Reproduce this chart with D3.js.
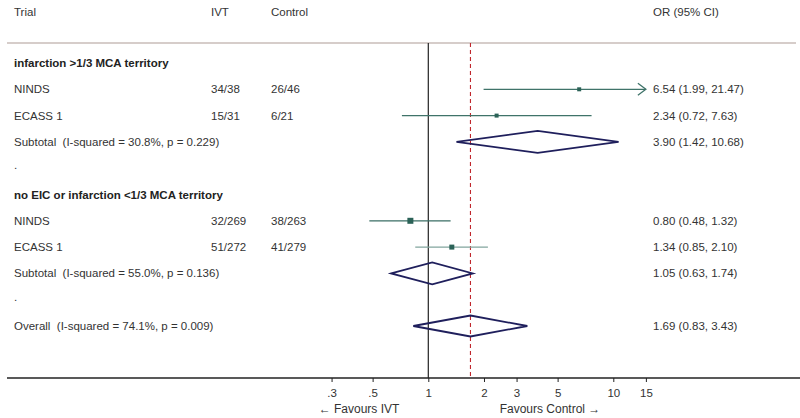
<!DOCTYPE html>
<html><head><meta charset="utf-8">
<script src="https://cdn.jsdelivr.net/npm/d3@7"></script>
<style>body{margin:0;background:#fff}svg{display:block}text{font-family:"Liberation Sans",Arial,sans-serif;fill:#333;white-space:pre}</style>
</head><body><svg id="c" width="800" height="418"></svg>
<script>
// Data
const rowLabels = ["infarction >1/3 MCA territory","NINDS","ECASS 1","Subtotal  (I-squared = 30.8%, p = 0.229)",".","no EIC or infarction <1/3 MCA territory","NINDS","ECASS 1","Subtotal  (I-squared = 55.0%, p = 0.136)",".","Overall  (I-squared = 74.1%, p = 0.009)"];
const rowTypes = ["group","study","study","subtotal","blank","group","study","study","subtotal","blank","overall"];
const ivtCol = ["","34/38","15/31","","","","32/269","51/272","","",""];
const controlCol = ["","26/46","6/21","","","","38/263","41/279","","",""];
const orVal = [null,6.54,2.34,3.90,null,null,0.80,1.34,1.05,null,1.69];
const ciLow = [null,1.99,0.72,1.42,null,null,0.48,0.85,0.63,null,0.83];
const ciHigh = [null,21.47,7.63,10.68,null,null,1.32,2.10,1.74,null,3.43];
const orText = ["","6.54 (1.99, 21.47)","2.34 (0.72, 7.63)","3.90 (1.42, 10.68)","","","0.80 (0.48, 1.32)","1.34 (0.85, 2.10)","1.05 (0.63, 1.74)","","1.69 (0.83, 3.43)"];
const squareSize = [0,4,4,0,0,0,6,5,0,0,0];
const lineShade = ["","#3f7369","#3f7369","","","","#3a6e64","#82a59e","","",""];
const tickValues = [0.3,0.5,1,2,3,5,10,15];
const tickLabels = [".3",".5","1","2","3","5","10","15"];
const headers = ["Trial","IVT","Control","OR (95% CI)"];

const svg = d3.select("#c");
const x = d3.scaleLog().domain([1,10]).range([428.3,613.3]);
const y = d3.scaleLinear().domain([0,10]).range([63,326]);
const xMax = 15;
const colX = {trial:14, ivt:211, ctrl:271, or:653};
const fs = "11.5px";
const axisY = 378, topY = 43;

// header
[[colX.trial,headers[0]],[colX.ivt,headers[1]],[colX.ctrl,headers[2]],[colX.or,headers[3]]].forEach(([xx,t])=>{
  svg.append("text").attr("x",xx).attr("y",12).attr("dy","0.35em").style("font-size",fs).text(t);
});
svg.append("line").attr("x1",7).attr("x2",796).attr("y1",topY).attr("y2",topY).attr("stroke","#c9bdb8").attr("stroke-width",1.3);

// reference lines
svg.append("line").attr("x1",x(1)).attr("x2",x(1)).attr("y1",topY).attr("y2",axisY).attr("stroke","#222").attr("stroke-width",1.2);
svg.append("line").attr("x1",x(1.69)).attr("x2",x(1.69)).attr("y1",topY).attr("y2",axisY).attr("stroke","#c0272d").attr("stroke-width",1.1).attr("stroke-dasharray","4,3");

// rows
rowLabels.forEach((lab,i)=>{
  const yy = y(i);
  const t = svg.append("text").attr("x",colX.trial).attr("y",yy).attr("dy","0.35em").attr("xml:space","preserve").style("font-size",fs).text(lab);
  if(rowTypes[i]==="group") t.style("font-weight","bold").style("fill","#222");
  if(rowTypes[i]==="blank") t.attr("dy","0.1em");
  if(ivtCol[i]) svg.append("text").attr("x",colX.ivt).attr("y",yy).attr("dy","0.35em").style("font-size",fs).text(ivtCol[i]);
  if(controlCol[i]) svg.append("text").attr("x",colX.ctrl).attr("y",yy).attr("dy","0.35em").style("font-size",fs).text(controlCol[i]);
  if(orText[i]) svg.append("text").attr("x",colX.or).attr("y",yy).attr("dy","0.35em").style("font-size",fs).text(orText[i]);
  if(rowTypes[i]==="study"){
    const hi = Math.min(ciHigh[i],xMax);
    svg.append("line").attr("x1",x(ciLow[i])).attr("x2",x(hi)).attr("y1",yy).attr("y2",yy).attr("stroke",lineShade[i]).attr("stroke-width",1.3);
    if(ciHigh[i]>xMax){
      const ax = x(xMax);
      svg.append("path").attr("d",`M${ax-8},${yy-6}L${ax},${yy}L${ax-8},${yy+6}`).attr("fill","none").attr("stroke",lineShade[i]).attr("stroke-width",1.3);
    }
    const s = squareSize[i];
    svg.append("rect").attr("x",x(orVal[i])-s/2).attr("y",yy-s/2).attr("width",s).attr("height",s).attr("fill","#2b6257");
  }
  if(rowTypes[i]==="subtotal"||rowTypes[i]==="overall"){
    const h = rowTypes[i]==="overall"?10.5:11;
    svg.append("path").attr("d",`M${x(ciLow[i])},${yy}L${x(orVal[i])},${yy-h}L${x(ciHigh[i])},${yy}L${x(orVal[i])},${yy+h}Z`)
      .attr("fill","none").attr("stroke","#1f1f5c").attr("stroke-width",1.8).attr("stroke-linejoin","miter");
  }
});

// axis
svg.append("line").attr("x1",7).attr("x2",800).attr("y1",axisY).attr("y2",axisY).attr("stroke","#222").attr("stroke-width",1.5);
const axis = d3.axisBottom(x).tickValues(tickValues).tickFormat((d,i)=>tickLabels[i]).tickSize(4).tickSizeOuter(0);
const g = svg.append("g").attr("transform",`translate(0,${axisY})`).call(axis);
g.select(".domain").remove();
g.selectAll(".tick line").attr("stroke","#222");
g.selectAll(".tick text").attr("y",11).style("font-size",fs).style("font-family","'Liberation Sans',Arial,sans-serif").attr("fill","#333");
svg.append("text").attr("x",359).attr("y",409).attr("dy","0.35em").attr("text-anchor","middle").style("font-size","12px").text("\u2190 Favours IVT");
svg.append("text").attr("x",550).attr("y",409).attr("dy","0.35em").attr("text-anchor","middle").style("font-size","12px").text("Favours Control \u2192");
</script></body></html>
